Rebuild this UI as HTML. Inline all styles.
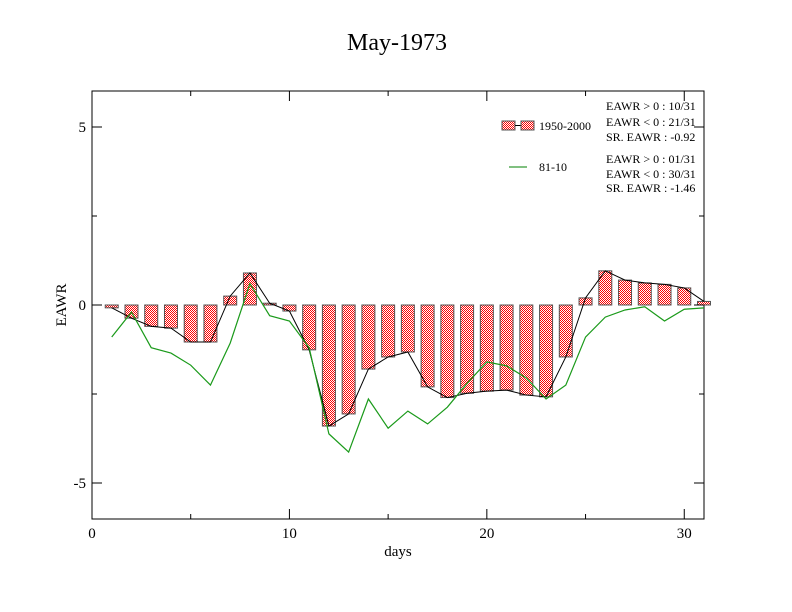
<!DOCTYPE html>
<html><head><meta charset="utf-8"><style>
body{margin:0;background:#fff;}
svg{display:block;font-family:"Liberation Serif",serif;}
</style></head><body>
<svg id="chart" width="792" height="612" viewBox="0 0 792 612">
<defs>
<pattern id="chk" width="2" height="2" patternUnits="userSpaceOnUse">
<rect width="2" height="2" fill="#fff"/><rect width="1" height="1" fill="#f00"/><rect x="1" y="1" width="1" height="1" fill="#f00"/>
</pattern>
</defs>
<text x="397" y="50" font-size="24" text-anchor="middle">May-1973</text>
<rect x="92" y="91" width="612" height="428" fill="none" stroke="#000" stroke-width="1"/>
<g id="bars"></g><g id="lines"></g><g id="axes"></g>
<text x="398" y="556" font-size="15" text-anchor="middle">days</text>
<text transform="translate(66,305) rotate(-90)" font-size="15" text-anchor="middle">EAWR</text>
<g font-size="12">
<rect x="502" y="121" width="13" height="9" fill="url(#chk)" stroke="#555"/>
<line x1="515" y1="125.5" x2="521" y2="125.5" stroke="#000"/>
<rect x="521" y="121" width="13" height="9" fill="url(#chk)" stroke="#555"/>
<text x="539" y="130">1950-2000</text>
<line x1="509" y1="167" x2="527" y2="167" stroke="#008000"/>
<text x="539" y="171">81-10</text>
<text x="606" y="110">EAWR &gt; 0 : 10/31</text>
<text x="606" y="126">EAWR &lt; 0 : 21/31</text>
<text x="606" y="141">SR. EAWR : -0.92</text>
<text x="606" y="163">EAWR &gt; 0 : 01/31</text>
<text x="606" y="178">EAWR &lt; 0 : 30/31</text>
<text x="606" y="192">SR. EAWR : -1.46</text>
</g>
</svg>
<script>
const days=[1,2,3,4,5,6,7,8,9,10,11,12,13,14,15,16,17,18,19,20,21,22,23,24,25,26,27,28,29,30,31];
const barValues=[-0.08,-0.37,-0.6,-0.65,-1.04,-1.04,0.25,0.9,0.05,-0.17,-1.26,-3.4,-3.06,-1.8,-1.46,-1.32,-2.3,-2.6,-2.48,-2.42,-2.39,-2.53,-2.58,-1.46,0.2,0.96,0.7,0.62,0.58,0.48,0.1];
const greenValues=[-0.9,-0.2,-1.2,-1.35,-1.69,-2.25,-1.07,0.6,-0.3,-0.45,-1.2,-3.62,-4.13,-2.64,-3.46,-2.98,-3.34,-2.87,-2.2,-1.6,-1.71,-2.05,-2.64,-2.25,-0.9,-0.34,-0.14,-0.05,-0.45,-0.12,-0.08];
const xTicks=[0,10,20,30];
const yTicks=[5,0,-5];
const NS="http://www.w3.org/2000/svg";
function xs(d){return 92+d*(612/31);}
function ys(v){return 305-v*35.6;}
function mk(tag,attrs,parent){const e=document.createElementNS(NS,tag);for(const k in attrs)e.setAttribute(k,attrs[k]);parent.appendChild(e);return e;}
const bars=document.getElementById('bars'),lines=document.getElementById('lines'),axes=document.getElementById('axes');
days.forEach((d,i)=>{
 const v=barValues[i],y0=ys(0),y1=ys(v);
 const r=mk('rect',{x:xs(d)-6.5,y:Math.min(y0,y1),width:13,height:Math.max(1,Math.abs(y1-y0)),fill:'url(#chk)',stroke:'#555','stroke-width':1},bars);
 
 
});
const bl=mk('polyline',{points:days.map((d,i)=>xs(d)+','+ys(barValues[i])).join(' '),fill:'none',stroke:'#000','stroke-width':1},lines);


const gl=mk('polyline',{points:days.map((d,i)=>xs(d)+','+ys(greenValues[i])).join(' '),fill:'none',stroke:'#1a9a1a','stroke-width':1.2},lines);


xTicks.forEach(t=>{
 mk('line',{x1:xs(t),y1:519,x2:xs(t),y2:509,stroke:'#000'},axes);
 mk('line',{x1:xs(t),y1:91,x2:xs(t),y2:101,stroke:'#000'},axes);
 const tx=mk('text',{x:xs(t),y:538,'font-size':15,'text-anchor':'middle'},axes);
 tx.textContent=t;
 
 
});
[5,15,25].forEach(t=>{mk('line',{x1:xs(t),y1:519,x2:xs(t),y2:514,stroke:'#000'},axes);mk('line',{x1:xs(t),y1:91,x2:xs(t),y2:96,stroke:'#000'},axes);});
yTicks.forEach(t=>{
 mk('line',{x1:92,y1:ys(t),x2:102,y2:ys(t),stroke:'#000'},axes);
 mk('line',{x1:704,y1:ys(t),x2:694,y2:ys(t),stroke:'#000'},axes);
 const tx=mk('text',{x:86,y:ys(t)+5,'font-size':15,'text-anchor':'end'},axes);
 tx.textContent=t;
 
 
});
[2.5,-2.5].forEach(t=>{mk('line',{x1:92,y1:ys(t),x2:97,y2:ys(t),stroke:'#000'},axes);mk('line',{x1:704,y1:ys(t),x2:699,y2:ys(t),stroke:'#000'},axes);});
</script>
</body></html>
